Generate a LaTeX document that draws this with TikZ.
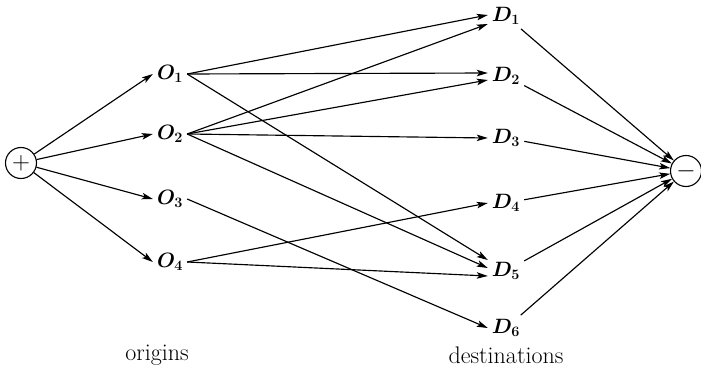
\documentclass[tikz,border=0pt]{standalone}
\usetikzlibrary{arrows.meta}
\begin{document}
\begin{tikzpicture}[x=1pt,y=-1pt,
  vertex/.style={inner sep=4pt,font=\fontsize{22}{26}\selectfont\boldmath},
  terminal/.style={circle,draw,line width=1.1pt,minimum size=31pt,inner sep=0pt,
    font=\fontsize{26}{30}\selectfont},
  caption/.style={font=\fontsize{24}{28}\selectfont},
  arc/.style={line width=1.15pt,-{Stealth[length=11pt,width=6.5pt,inset=2.5pt]}}]
\useasboundingbox (0,0) rectangle (701,377);

% source and sink
\node[terminal] (plus) at (21,163) {$+$};
\node[terminal] (minus) at (686,171) {$-$};

% origins
\node[vertex] (O1) at (170,74) {$O_1$};
\node[vertex] (O2) at (170,134) {$O_2$};
\node[vertex] (O3) at (170,199) {$O_3$};
\node[vertex] (O4) at (170,262) {$O_4$};

% destinations
\node[vertex] (D1) at (506,16) {$D_1$};
\node[vertex] (D2) at (506,76) {$D_2$};
\node[vertex] (D3) at (506,138) {$D_3$};
\node[vertex] (D4) at (506,203) {$D_4$};
\node[vertex] (D5) at (506,271) {$D_5$};
\node[vertex] (D6) at (506,328) {$D_6$};

% labels
\node[caption] (lo) at (157,355) {origins};
\node[caption] (ld) at (506,355) {destinations};

% source to origins
\foreach \o in {O1,O2,O3,O4}
  \draw[arc] (plus) -- (\o.west);

% origins to destinations (yshift is upward on the canvas)
\draw[arc] (O1.east) -- ([yshift=1pt]D1.west);
\draw[arc] (O1.east) -- ([yshift=3pt]D2.west);
\draw[arc] (O1.east) -- ([yshift=11pt]D5.west);
\draw[arc] (O2.east) -- ([yshift=-8pt]D1.west);
\draw[arc] (O2.east) -- ([yshift=-4pt]D2.west);
\draw[arc] (O2.east) -- (D3.west);
\draw[arc] (O2.east) -- ([yshift=3pt]D5.west);
\draw[arc] (O3.east) -- (D6.west);
\draw[arc] (O4.east) -- (D4.west);
\draw[arc] (O4.east) -- ([yshift=-5pt]D5.west);

% destinations to sink
\foreach \d in {D1,D2,D3,D4,D5,D6}
  \draw[arc] (\d) -- (minus);
\end{tikzpicture}
\end{document}
